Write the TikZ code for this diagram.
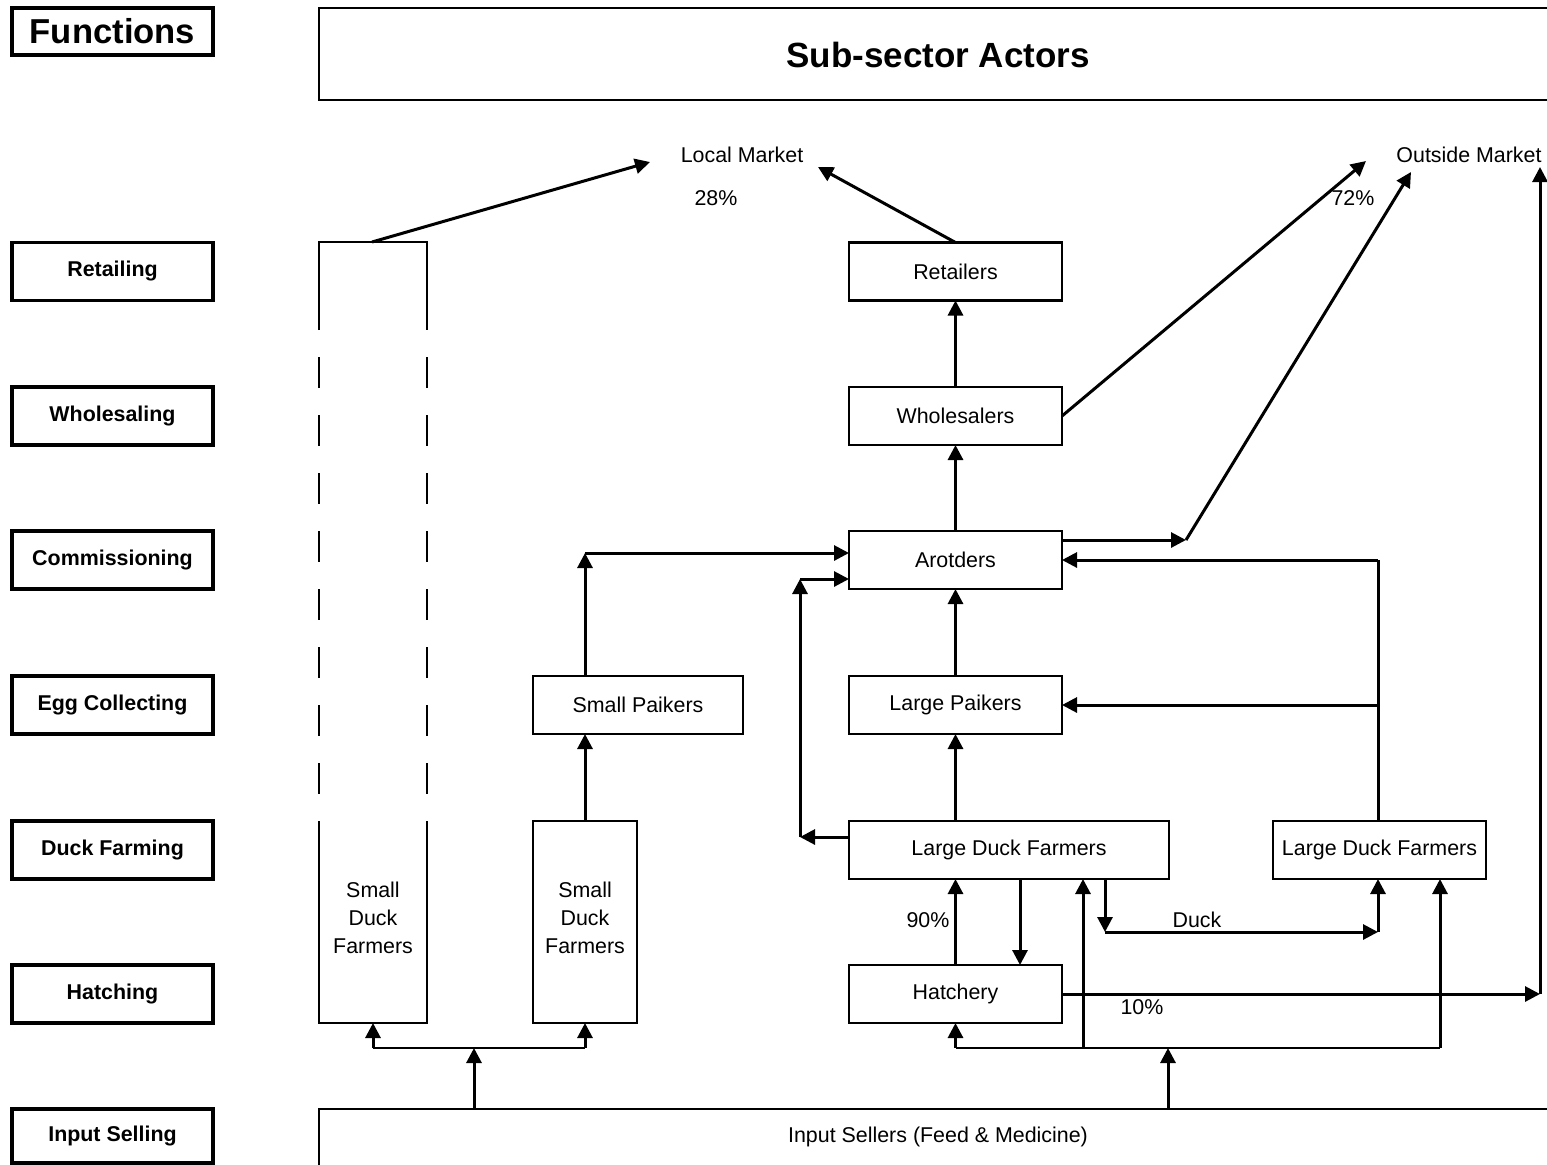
\documentclass[tikz,border=0pt]{standalone}
\usepackage{fontspec}
\setmainfont{Liberation Sans}
\usetikzlibrary{arrows.meta}
\begin{document}
\begin{tikzpicture}[x=0.5pt,y=-0.5pt,
  txt/.style={font=\fontsize{10.7}{14}\selectfont},
  funcbox/.style={draw,line width=1.6pt,inner sep=0pt,outer sep=0pt,minimum width=100.5pt,minimum height=29pt,font=\fontsize{10.7}{13}\selectfont\bfseries},
  actbox/.style={draw,line width=1.2pt,inner sep=0pt,outer sep=0pt,minimum width=106.5pt,minimum height=29pt,font=\fontsize{10.7}{13}\selectfont},
  thickln/.style={line width=1.5pt},
  thinln/.style={line width=0.75pt},
  arr/.style={line width=1.5pt,-{Triangle[length=7.5pt,width=7.5pt]}},
]
\useasboundingbox (0,0) rectangle (1547,1164);
\clip (0,0) rectangle (1547,1164);

% ---- Functions column
\node[funcbox,minimum height=23.5pt,font=\fontsize{17.3}{20}\selectfont\bfseries] (fun) at (112.5,31.5) {Functions};
\node[funcbox] (fRet) at (112.5,271.5) {Retailing};
\node[funcbox] (fWho) at (112.5,416) {Wholesaling};
\node[funcbox] (fCom) at (112.5,560) {Commissioning};
\node[funcbox] (fEgg) at (112.5,705) {Egg Collecting};
\node[funcbox] (fDuck) at (112.5,850) {Duck Farming};
\node[funcbox] (fHat) at (112.5,994) {Hatching};
\node[funcbox,minimum height=27pt] (fInp) at (112.5,1136) {Input Selling};

% ---- Header
\node[draw,line width=1.2pt,inner sep=0pt,outer sep=0pt,anchor=north west,minimum width=630pt,minimum height=46pt] (sub) at (319,8) {};
\node[font=\fontsize{17.5}{20}\selectfont\bfseries] (subt) at (938,55) {Sub-sector Actors};

% ---- Markets
\node[txt] (lmt) at (742,155) {Local Market};
\node[txt] (p28) at (716,198) {28\%};
\node[txt] (omt) at (1469,155) {Outside Market};
\node[txt] (p72) at (1353,198) {72\%};
\coordinate (lm1) at (650,162);
\coordinate (lm2) at (818,167);
\coordinate (om1) at (1366,161);
\coordinate (om2) at (1411,172);
\coordinate (om3) at (1540,167);

% ---- Actors
\node[actbox] (ret) at (955.5,271.5) {Retailers};
\node[actbox] (who) at (955.5,416) {Wholesalers};
\node[actbox] (aro) at (955.5,560) {Arotders};
\node[actbox] (lp) at (955.5,705) {Large Paikers};
\node[actbox,minimum width=105pt] (sp) at (638,705) {Small Paikers};
\node[actbox,minimum width=160pt] (ldf1) at (1009,850) {Large Duck Farmers};
\node[actbox] (ldf2) at (1379.5,850) {Large Duck Farmers};
\node[actbox] (hat) at (955.5,994) {Hatchery};
\node[actbox,minimum width=52pt,minimum height=101pt] (sdf2) at (585,922) {};
\node[txt,align=center] (sdf2t) at (585,918) {Small\\Duck\\Farmers};

% dashed small duck farmers
\node[inner sep=0pt,outer sep=0pt,minimum width=54pt,minimum height=390.5pt] (sdf1) at (373,632.5) {};
\node[txt,align=center] (sdf1t) at (373,918) {Small\\Duck\\Farmers};
\draw[line width=1.2pt] (319,330) -- (319,242) -- (427,242) -- (427,330);
\draw[line width=1.2pt] (319,821) -- (319,1023) -- (427,1023) -- (427,821);
\foreach \yy in {357,415,473,531,589,647,705,763} {
  \draw[line width=1.2pt] (319,\yy) -- (319,\yy+31);
  \draw[line width=1.2pt] (427,\yy) -- (427,\yy+31);
}

% input sellers
\node[draw,line width=1.2pt,inner sep=0pt,outer sep=0pt,anchor=north west,minimum width=630pt,minimum height=40pt] (inp) at (319,1109) {};
\node[txt] (inpt) at (938,1137) {Input Sellers (Feed \& Medicine)};

% ---- Connectors to markets
\coordinate (s1top) at (372,242);
\draw[arr] (s1top) -- (lm1);
\draw[arr] (ret.north) -- (lm2);
\draw[arr] (who.east) -- (om1);
\coordinate (jA) at (1186,540);
\draw[arr] (aro.east |- jA) -- (jA);
\draw[arr] (jA) -- (om2);
\coordinate (jH) at (1540,994);
\draw[arr] (hat.east) -- (jH);
\node[txt] (p10) at (1142,1007) {10\%};
\draw[arr] (jH) -- (om3);

% ---- main chain
\draw[arr] (who.north) -- (ret.south);
\draw[arr] (aro.north) -- (who.south);
\draw[arr] (lp.north) -- (aro.south);
\draw[arr] (ldf1.north -| lp.south) -- (lp.south);

% small paikers
\draw[arr] (sdf2.north) -- (sp.south -| sdf2.north);
\coordinate (jSP) at (585,553);
\draw[arr] (sp.north -| jSP) -- (jSP);
\draw[arr] (jSP) -- (aro.west |- jSP);

% left loop
\coordinate (jL1) at (800,837);
\coordinate (jL2) at (800,579);
\draw[arr] (ldf1.west |- jL1) -- (jL1);
\draw[arr] (jL1) -- (jL2);
\draw[arr] (jL2) -- (aro.west |- jL2);

% right loop
\coordinate (jR1) at (1378,560);
\coordinate (jR2) at (1378,705);
\draw[thickln] (ldf2.north -| jR1) -- (jR1);
\draw[arr] (jR1) -- (aro.east);
\draw[arr] (jR2) -- (lp.east);

% hatchery / farmers
\coordinate (cA) at (1020,0);
\draw[arr] (ldf1.south -| cA) -- (hat.north -| cA);
\draw[arr] (hat.north) -- (ldf1.south -| hat.north);
\node[txt] (p90) at (928,920) {90\%};

% duck
\coordinate (jD1) at (1105,932);
\coordinate (jD2) at (1378,932);
\draw[arr] (ldf1.south -| jD1) -- (jD1);
\draw[arr] (jD1) -- (jD2);
\draw[arr] (jD2) -- (ldf2.south -| jD2);
\node[txt] (duck) at (1197,920) {Duck};

% inputs left
\coordinate (jI1) at (474,1048);
\draw[arr] (inp.north -| jI1) -- (jI1);
\draw[thinln] (sdf1.south |- jI1) -- (sdf2.south |- jI1);
\draw[arr] (sdf1.south |- jI1) -- (sdf1.south);
\draw[arr] (sdf2.south |- jI1) -- (sdf2.south);

% inputs right
\coordinate (jI2) at (1168,1048);
\coordinate (jI3) at (1440,1048);
\coordinate (jI4) at (1083,1048);
\draw[arr] (inp.north -| jI2) -- (jI2);
\draw[thinln] (hat.south |- jI2) -- (jI3);
\draw[arr] (hat.south |- jI2) -- (hat.south);
\draw[arr] (jI4) -- (ldf1.south -| jI4);
\draw[arr] (jI3) -- (ldf2.south -| jI3);
\end{tikzpicture}
\end{document}
